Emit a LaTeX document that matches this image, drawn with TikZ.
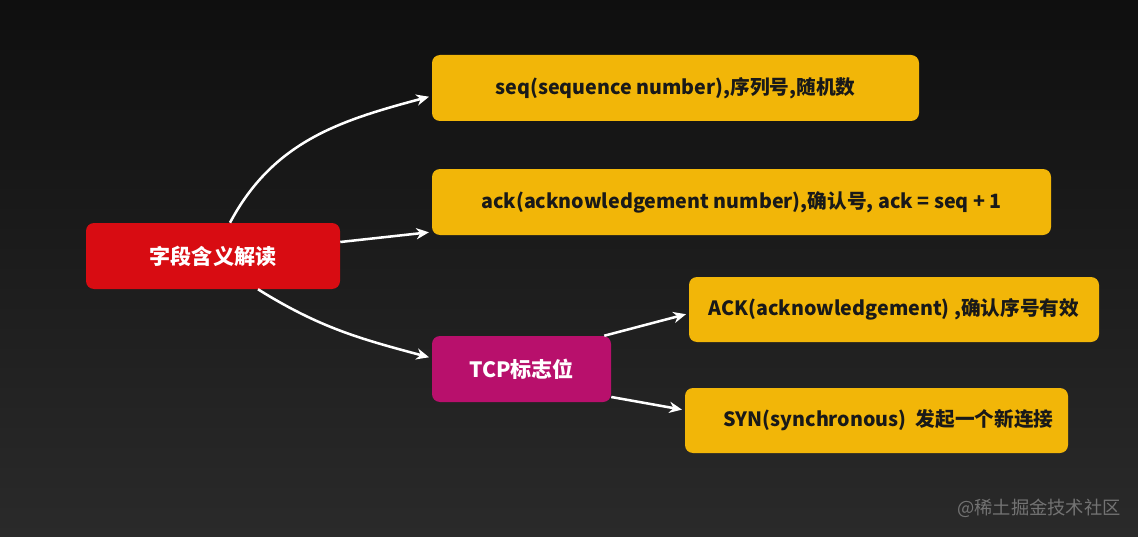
\documentclass[tikz,border=0pt]{standalone}
\usepackage{fontspec}
\setmainfont{Noto Sans CJK SC}
\usetikzlibrary{arrows.meta}
\definecolor{amber}{RGB}{242,182,8}
\definecolor{scarlet}{RGB}{216,12,18}
\definecolor{plum}{RGB}{184,16,108}
\definecolor{bgtop}{RGB}{15,15,15}
\definecolor{bgbot}{RGB}{42,42,42}

\begin{document}
\begin{tikzpicture}[
  box/.style={rounded corners=0.2cm, minimum height=1.65cm, inner sep=0pt,
    font=\fontsize{14}{16}\selectfont\bfseries},
  hub/.style={box, text=white, font=\fontsize{15}{17}\selectfont\bfseries},
  leaf/.style={box, fill=amber, text=black!90},
  link/.style={white, line width=1.8pt, shorten >=2pt, -{Stealth[length=9pt,width=8pt]}}
]
\shade[top color=bgtop, bottom color=bgbot] (0,0) rectangle (28.45,-13.425);
\useasboundingbox (0,0) rectangle (28.45,-13.425);

\node[hub, fill=scarlet, minimum width=6.35cm] (root) at (5.325,-6.4) {字段含义解读};
\node[leaf, minimum width=12.175cm] (seq) at (16.8875,-2.2) {seq(sequence number),序列号,随机数};
\node[leaf, minimum width=15.475cm] (ack) at (18.5375,-5.05) {ack(acknowledgement number),确认号, ack = seq + 1};
\node[hub, fill=plum, minimum width=4.475cm] (tcp) at (13.0375,-9.225) {TCP标志位};
\node[leaf, minimum width=10.25cm, minimum height=1.625cm] (ackflag) at (22.35,-7.7375) {ACK(acknowledgement) ,确认序号有效};
\node[leaf, minimum width=9.575cm, minimum height=1.625cm] (synflag) at (21.9125,-10.5125) {\hspace{0.6cm}SYN(synchronous)\ \ 发起一个新连接};

\draw[link] ([xshift=0.425cm]root.north) to[out=62, in=195] ([yshift=-0.2cm]seq.west);
\draw[link] ([yshift=0.35cm]root.east) -- ([yshift=-0.75cm]ack.west);
\draw[link] ([xshift=1.125cm]root.south) to[out=-32, in=165] ([yshift=0.275cm]tcp.west);
\draw[link] ([xshift=-0.175cm]tcp.north east) -- ([yshift=-0.1cm]ackflag.west);
\draw[link] ([yshift=-0.7cm]tcp.east) -- ([yshift=0.26cm]synflag.west);

\node[text=black!55, font=\fontsize{13}{15}\selectfont] (mark) at (25.975,-12.7) {@稀土掘金技术社区};
\end{tikzpicture}
\end{document}
